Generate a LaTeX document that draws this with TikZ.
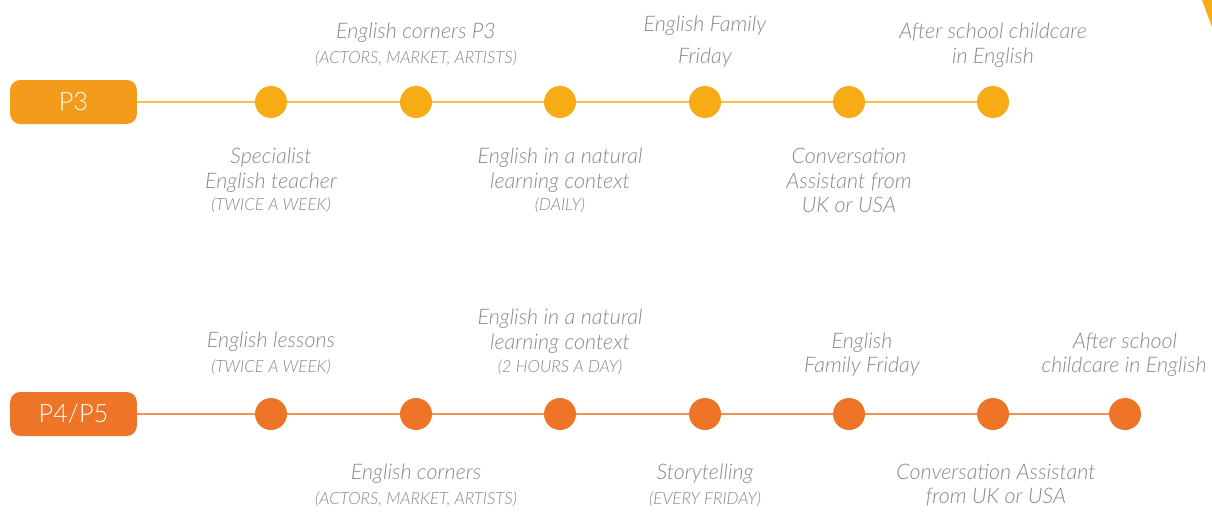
\documentclass[tikz,border=0pt]{standalone}
\usepackage{fontspec}
\newfontfamily\lt{Lato Light}[ItalicFont={Lato Light Italic}]
\usetikzlibrary{backgrounds}
\definecolor{txtgrey}{HTML}{888888}
\definecolor{yelbox}{HTML}{F39C1B}
\definecolor{yeldot}{HTML}{F7AC16}
\definecolor{yelline}{HTML}{F8BE48}
\definecolor{orabox}{HTML}{EE7428}
\definecolor{oradot}{HTML}{EE7428}
\definecolor{oraline}{HTML}{F19357}
\tikzset{
  lbl/.style={anchor=base, inner sep=0pt, text=txtgrey, font=\lt\itshape\fontsize{16.1}{18}\selectfont},
  sml/.style={anchor=base, inner sep=0pt, text=txtgrey, font=\lt\itshape\fontsize{12.6}{14}\selectfont},
  levbox/.style={rounded corners=7.5pt, minimum width=95pt, minimum height=33pt, inner sep=0pt, text=white, font=\lt\fontsize{19}{22}\selectfont},
  dotY/.style={circle, fill=yeldot, minimum size=24pt, inner sep=0pt},
  dotO/.style={circle, fill=oradot, minimum size=24pt, inner sep=0pt},
  tline/.style={line width=2.2pt},
}
\begin{document}
\begin{tikzpicture}[x=0.75pt, y=-0.75pt]
\useasboundingbox (0,0) rectangle (1212,512);
% corner wedge
\fill[yeldot] (1202,0) -- (1212,0) -- (1212,27) -- cycle;
% ---- P3 row
\node[levbox, fill=yelbox] (p3) at (73.5,102) {P3};
\foreach \i/\x in {1/271,2/416,3/560,4/705,5/849,6/993}
  \node[dotY] (a\i) at (\x,102) {};
\begin{scope}[on background layer]
  \draw[tline, yelline] (p3.center) -- (a6.center);
\end{scope}
\node[lbl] (a2t) at (416,38) {English corners P3};
\node[sml] (a2s) at (416,63) {(ACTORS, MARKET, ARTISTS)};
\node[lbl] (a4t) at (705,31) {English Family};
\node[lbl] (a4u) at (705,63) {Friday};
\node[lbl] (a6t) at (993,38) {After school childcare};
\node[lbl] (a6u) at (993,63) {in English};
\node[lbl] (a1t) at (271,163) {Specialist};
\node[lbl] (a1u) at (271,188) {English teacher};
\node[sml] (a1s) at (271,210) {(TWICE A WEEK)};
\node[lbl] (a3t) at (560,163) {English in a natural};
\node[lbl] (a3u) at (560,188) {learning context};
\node[sml] (a3s) at (560,210) {(DAILY)};
\node[lbl] (a5t) at (849,163) {Conversation};
\node[lbl] (a5u) at (849,188) {Assistant from};
\node[lbl] (a5v) at (849,212) {UK or USA};
% ---- P4/P5 row
\node[levbox, fill=orabox] (p4) at (73.5,414) {P4/P5};
\foreach \i/\x in {1/271,2/416,3/560,4/705,5/849,6/993,7/1125}
  \node[dotO] (b\i) at (\x,414) {};
\begin{scope}[on background layer]
  \draw[tline, oraline] (p4.center) -- (b7.center);
\end{scope}
\node[lbl] (b1t) at (271,347) {English lessons};
\node[sml] (b1s) at (271,372) {(TWICE A WEEK)};
\node[lbl] (b3t) at (560,324) {English in a natural};
\node[lbl] (b3u) at (560,349) {learning context};
\node[sml] (b3s) at (560,372) {(2 HOURS A DAY)};
\node[lbl] (b5t) at (862,348) {English};
\node[lbl] (b5u) at (862,372) {Family Friday};
\node[lbl] (b7t) at (1125,348) {After school};
\node[lbl] (b7u) at (1124,372) {childcare in English};
\node[lbl] (b2t) at (416,479) {English corners};
\node[sml] (b2s) at (416,504) {(ACTORS, MARKET, ARTISTS)};
\node[lbl] (b4t) at (705,479) {Storytelling};
\node[sml] (b4s) at (705,504) {(EVERY FRIDAY)};
\node[lbl] (b6t) at (996,479) {Conversation Assistant};
\node[lbl] (b6u) at (996,503) {from UK or USA};
\end{tikzpicture}
\end{document}
